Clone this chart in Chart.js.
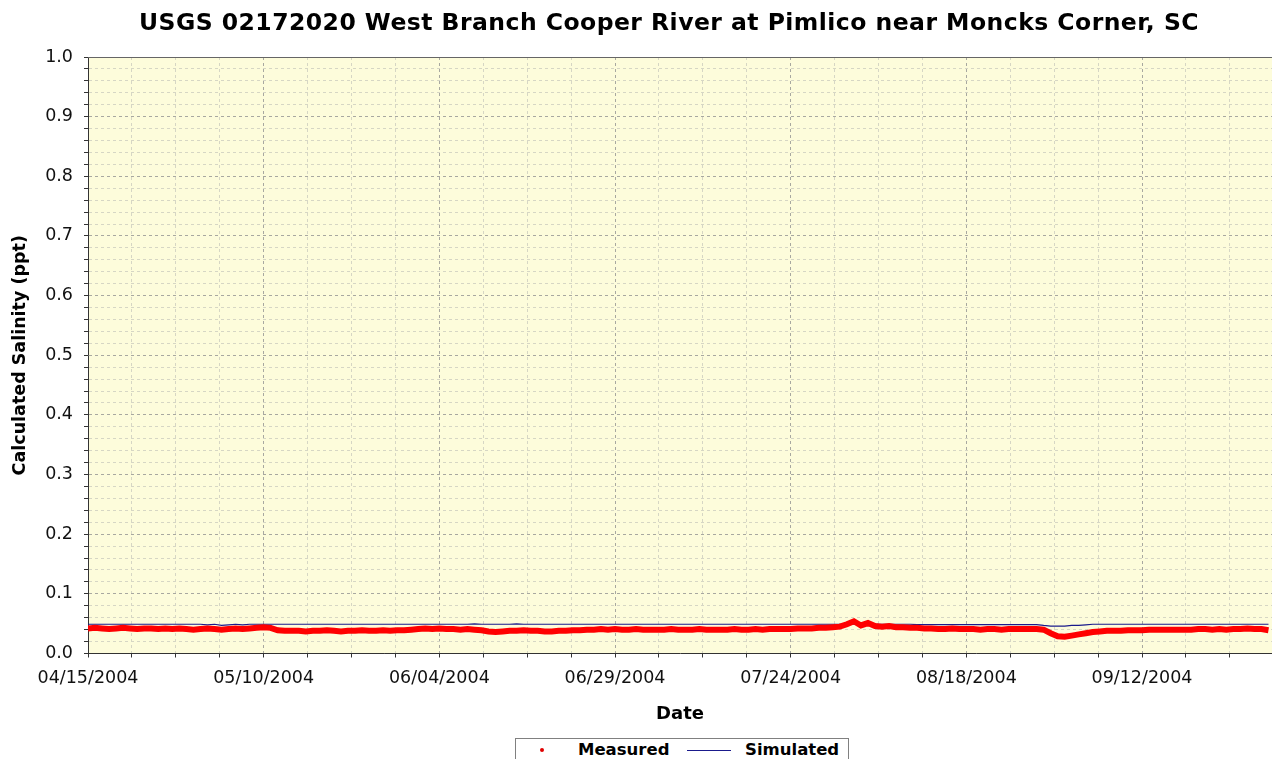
<!DOCTYPE html>
<html><head><meta charset="utf-8">
<script src="https://cdn.jsdelivr.net/npm/chart.js@4.4.1/dist/chart.umd.min.js"></script>
<style>
html,body{margin:0;padding:0;background:#fff;width:1272px;height:759px;overflow:hidden;}
#wrap{position:relative;width:1272px;height:759px;}
#c{position:absolute;left:0;top:0;}
#title{position:absolute;left:139px;top:11px;font-family:"DejaVu Sans";font-weight:bold;font-size:23.5px;line-height:23.5px;white-space:nowrap;color:#000;}
#legend{position:absolute;left:515px;top:738px;width:334px;height:30px;border:1px solid #808080;box-sizing:border-box;background:#fff;}
#legend .txt{position:absolute;top:3px;font-family:"DejaVu Sans";font-weight:bold;font-size:16.5px;line-height:16.5px;color:#000;white-space:nowrap;}
#legend .dot{position:absolute;width:4px;height:4px;border-radius:50%;background:#e00000;}
#legend .ln{position:absolute;height:1px;background:#1a1a8c;}
</style></head>
<body><div id="wrap">
<canvas id="c" width="1272" height="759"></canvas>
<div id="title">USGS 02172020 West Branch Cooper River at Pimlico near Moncks Corner, SC</div>
<div id="legend">
 <span class="dot" style="left:24px;top:9px"></span>
 <span class="txt" style="left:62px">Measured</span>
 <span class="ln" style="left:171px;top:11px;width:44px"></span>
 <span class="txt" style="left:229px">Simulated</span>
</div>
</div>
<script>
// Day offsets from 04/15/2004
const xTickDays = [0, 25, 50, 75, 100, 125, 150];
const xTickLabels = ['04/15/2004','05/10/2004','06/04/2004','06/29/2004','07/24/2004','08/18/2004','09/12/2004'];
const yMajorLabels = ['0.0','0.1','0.2','0.3','0.4','0.5','0.6','0.7','0.8','0.9','1.0'];

// Measured salinity (ppt), one value per day starting 04/15/2004
const measured = [
0.042,0.043,0.042,0.041,0.042,0.043,0.042,0.041,0.042,0.042,
0.041,0.042,0.041,0.042,0.041,0.040,0.041,0.042,0.041,0.040,
0.041,0.042,0.041,0.042,0.043,0.044,0.043,0.039,0.038,0.038,
0.038,0.037,0.038,0.038,0.039,0.038,0.037,0.038,0.038,0.039,
0.038,0.038,0.039,0.038,0.039,0.039,0.040,0.041,0.042,0.041,
0.042,0.041,0.041,0.040,0.041,0.040,0.039,0.037,0.036,0.037,
0.038,0.038,0.039,0.038,0.038,0.037,0.037,0.038,0.038,0.039,
0.039,0.040,0.040,0.041,0.040,0.041,0.040,0.040,0.041,0.040,
0.040,0.040,0.040,0.041,0.040,0.040,0.040,0.041,0.040,0.040,
0.040,0.040,0.041,0.040,0.040,0.041,0.040,0.041,0.041,0.041,
0.041,0.042,0.042,0.042,0.043,0.043,0.044,0.045,0.049,0.054,
0.047,0.051,0.046,0.045,0.046,0.044,0.044,0.043,0.043,0.042,
0.042,0.041,0.041,0.042,0.041,0.041,0.041,0.040,0.041,0.041,
0.040,0.041,0.041,0.041,0.041,0.041,0.040,0.034,0.029,0.028,
0.030,0.032,0.034,0.036,0.037,0.038,0.038,0.038,0.039,0.039,
0.039,0.040,0.040,0.040,0.040,0.040,0.040,0.040,0.041,0.041,
0.040,0.041,0.040,0.041,0.041,0.042,0.041,0.041,0.039
];

// Simulated salinity (ppt), one value per day starting 04/15/2004
const simulated = [
0.049,0.049,0.049,0.049,0.049,0.049,0.049,0.049,0.049,0.049,
0.049,0.049,0.049,0.049,0.049,0.049,0.049,0.048,0.049,0.047,
0.048,0.049,0.048,0.049,0.049,0.049,0.049,0.049,0.049,0.049,
0.049,0.049,0.049,0.049,0.049,0.049,0.049,0.049,0.049,0.049,
0.049,0.049,0.049,0.049,0.049,0.049,0.049,0.049,0.049,0.049,
0.049,0.049,0.049,0.049,0.049,0.0495,0.049,0.049,0.049,0.049,
0.049,0.0495,0.049,0.049,0.049,0.049,0.049,0.049,0.049,0.049,
0.049,0.049,0.049,0.049,0.049,0.049,0.049,0.049,0.049,0.049,
0.049,0.049,0.049,0.049,0.049,0.049,0.049,0.049,0.049,0.049,
0.049,0.049,0.049,0.049,0.049,0.049,0.049,0.049,0.049,0.049,
0.049,0.049,0.049,0.049,0.049,0.049,0.049,0.049,0.049,0.049,
0.049,0.049,0.049,0.049,0.049,0.049,0.049,0.049,0.0485,0.0485,
0.0485,0.0485,0.0485,0.0485,0.0485,0.0485,0.0485,0.0485,0.0485,0.0485,
0.0485,0.0485,0.0485,0.0485,0.0485,0.0485,0.047,0.046,0.046,0.046,
0.047,0.047,0.048,0.049,0.049,0.049,0.049,0.049,0.049,0.049,
0.049,0.049,0.049,0.049,0.049,0.049,0.049,0.049,0.049,0.049,
0.049,0.049,0.049,0.049,0.049,0.049,0.049,0.049,0.049
];

// fit title width
(function(){
  const t = document.getElementById('title');
  const w = t.getBoundingClientRect().width;
  const n = t.textContent.length;
  t.style.letterSpacing = ((1060 - w) / n) + 'px';
})();

const X_MAX = 168.5;
const xTickVals = [];
for (let k = 0; k * 6.25 <= X_MAX; k++) xTickVals.push(k * 6.25);
const yTickVals = [];
for (let k = 0; k <= 50; k++) yTickVals.push(k / 50);

function isYMajor(v){ return Math.abs(v * 10 - Math.round(v * 10)) < 1e-6; }
function isXMajor(v){ return xTickDays.indexOf(v) >= 0; }

const plotBg = {
  id: 'plotBg',
  beforeDraw(chart){
    const {ctx, chartArea: a} = chart;
    ctx.save();
    ctx.fillStyle = '#FDFCDB';
    ctx.fillRect(a.left, a.top, a.right - a.left, a.bottom - a.top);
    ctx.restore();
  }
};
const topBorder = {
  id: 'topBorder',
  afterDraw(chart){
    const {ctx, chartArea: a} = chart;
    ctx.save();
    ctx.strokeStyle = '#666';
    ctx.lineWidth = 1;
    ctx.beginPath();
    ctx.moveTo(a.left, Math.round(a.top) + 0.5);
    ctx.lineTo(a.right, Math.round(a.top) + 0.5);
    ctx.stroke();
    ctx.restore();
  }
};

new Chart(document.getElementById('c'), {
  type: 'line',
  data: {
    datasets: [
      {
        label: 'Measured',
        data: measured.map((v, i) => ({x: i, y: v})),
        borderColor: '#FF0000',
        backgroundColor: '#FF0000',
        borderWidth: 6,
        pointRadius: 0,
        tension: 0,
        fill: false
      },
      {
        label: 'Simulated',
        data: simulated.map((v, i) => ({x: i, y: v})),
        borderColor: '#1a1a8c',
        backgroundColor: '#1a1a8c',
        borderWidth: 1.2,
        pointRadius: 0,
        tension: 0,
        fill: false
      }
    ]
  },
  options: {
    responsive: false,
    animation: false,
    layout: {padding: {top: 57, left: 0, right: 0, bottom: 0}},
    plugins: {legend: {display: false}, title: {display: false}, tooltip: {enabled: false}},
    scales: {
      x: {
        type: 'linear',
        min: 0,
        max: X_MAX,
        afterBuildTicks: s => { s.ticks = xTickVals.map(v => ({value: v})); },
        afterFit: s => { s.height = 105.5; },
        ticks: {
          autoSkip: false, maxRotation: 0, minRotation: 0, padding: 10, color: '#111',
          font: {family: 'DejaVu Sans', size: 17.5},
          callback: v => { const i = xTickDays.indexOf(v); return i >= 0 ? xTickLabels[i] : ''; }
        },
        grid: {
          color: c => (c.tick && isXMajor(c.tick.value)) ? '#a8a8a0' : '#d6d6c4',
          lineWidth: 1, tickLength: 4, tickColor: '#333'
        },
        border: {display: true, color: '#333', width: 1, dash: [3, 3]},
        title: {display: true, text: 'Date', color: '#000',
          font: {family: 'DejaVu Sans', size: 18, weight: 'bold'},
          padding: {top: 0, bottom: 34}}
      },
      y: {
        type: 'linear',
        min: 0,
        max: 1,
        afterBuildTicks: s => { s.ticks = yTickVals.map(v => ({value: v})); },
        afterFit: s => { s.width = 88; },
        ticks: {
          autoSkip: false, padding: 11, color: '#111',
          font: {family: 'DejaVu Sans', size: 17.5},
          callback: v => isYMajor(v) ? yMajorLabels[Math.round(v * 10)] : ''
        },
        grid: {
          color: c => (c.tick && isYMajor(c.tick.value)) ? '#a8a8a0' : '#d6d6c4',
          lineWidth: 1, tickLength: 4, tickColor: '#333'
        },
        border: {display: true, color: '#333', width: 1, dash: [3, 3]},
        title: {display: true, text: 'Calculated Salinity (ppt)', color: '#000',
          font: {family: 'DejaVu Sans', size: 17.5, weight: 'bold'},
          padding: {top: 10, bottom: 0}}
      }
    }
  },
  plugins: [plotBg, topBorder]
});
</script>
</body></html>
